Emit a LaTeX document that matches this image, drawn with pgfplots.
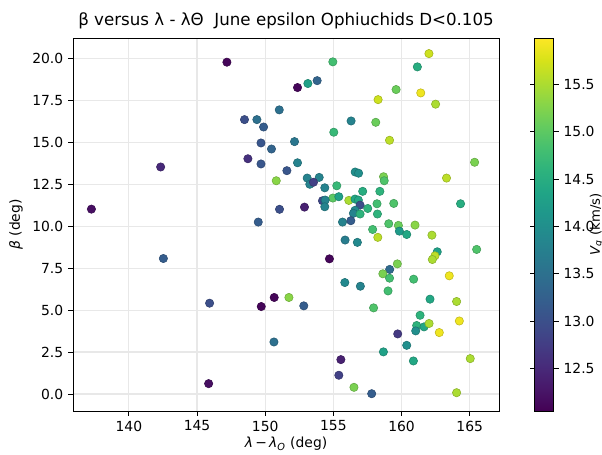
\documentclass[border=0pt]{standalone}
\usepackage{pgfplots}
\pgfplotsset{compat=1.18}
\usepackage{fontspec}
\setmainfont{DejaVu Sans}
\begin{document}
\begin{tikzpicture}
\path[use as bounding box] (-52.56pt,-30.96pt) rectangle ++(433.44pt,326.88pt);
\begin{axis}[
  name=main,
  at={(0,0)}, anchor=south west,
  scale only axis,
  width=306.72pt, height=268.56pt,
  xmin=135.9, xmax=167.15, ymin=-1.01, ymax=21.2,
  xtick={140,145,...,165},
  ytick={0,2.5,...,20},
  yticklabel style={/pgf/number format/.cd, fixed, fixed zerofill, precision=1},
  /pgf/number format/assume math mode=true,
  ticklabel style={font=\fontsize{10}{12}\selectfont},
  tick pos=left, tick align=outside,
  major tick length=3.5pt,
  every tick/.style={black, line width=0.6pt},
  axis line style={black, line width=0.6pt},
  grid=major,
  major grid style={gray!18, line width=0.8pt},
  title={β versus λ - λΘ \ June epsilon Ophiuchids D<0.105},
  title style={font=\fontsize{12}{14}\selectfont, yshift=-3pt},
  xlabel={\textit{λ}\,−\,\textit{λ}\textsubscript{\textit{O}} (deg)},
  ylabel={\textit{β} (deg)},
  label style={font=\fontsize{10}{12}\selectfont},
  xlabel style={yshift=2.5pt},
  colormap/viridis,
  point meta min=12.05, point meta max=15.99,
  colorbar,
  colorbar style={
    at={(parent axis.north east)}, anchor=north west, xshift=17.28pt,
    width=13.68pt,
    ytick={12.5,13,...,15.5},
    yticklabel style={/pgf/number format/.cd, fixed, fixed zerofill, precision=1},
    /pgf/number format/assume math mode=true,
    yticklabel pos=right,
    ylabel={\textit{V}\textsubscript{\textit{g}} (km/s)},
    ylabel style={font=\fontsize{9.5}{11}\selectfont, at={(axis description cs:3.25,0.5)}, anchor=center},
    tick align=outside, major tick length=3.5pt,
    ticklabel style={font=\fontsize{10}{12}\selectfont},
    axis line style={black, line width=0.6pt},
  },
]
\addplot[scatter, only marks, scatter src=explicit, mark=*, mark size=3pt]
table[meta=c] {
x y c
147.19 19.76 12.1
152.37 18.25 12.1
151.03 16.92 13.5
148.48 16.34 13.0
149.39 16.34 13.5
149.88 15.90 13.2
149.69 14.95 13.1
152.15 15.03 13.6
150.46 14.59 13.3
148.73 14.01 12.6
149.69 13.70 13.1
152.37 13.77 13.8
151.59 13.30 13.1
150.81 12.70 15.3
142.33 13.52 12.5
137.25 11.01 12.2
151.05 11.00 13.0
149.49 10.24 13.2
142.53 8.07 13.2
145.92 5.41 13.0
149.71 5.21 12.1
150.66 5.75 12.1
151.74 5.75 15.3
150.64 3.10 13.5
145.85 0.62 12.2
162.01 20.27 15.7
154.96 19.78 14.8
161.16 19.48 14.5
153.13 18.49 14.3
153.81 18.66 13.3
159.60 18.13 15.1
161.41 17.93 15.9
158.28 17.53 15.7
162.50 17.26 15.5
156.30 16.26 13.8
158.11 16.18 15.1
155.03 15.59 14.7
159.12 15.11 15.6
165.36 13.80 15.2
156.60 13.22 14.0
156.85 13.15 14.0
158.68 12.94 15.2
158.73 12.70 14.9
163.30 12.86 15.6
153.08 12.86 13.8
153.96 12.90 13.8
153.27 12.49 13.8
153.54 12.61 12.8
154.37 12.28 13.8
155.25 12.40 14.7
157.15 12.07 14.5
158.41 12.07 14.6
154.96 11.67 15.0
155.40 11.75 14.3
154.20 11.51 12.9
154.40 11.55 13.8
154.37 11.15 13.8
152.88 11.13 12.4
156.13 11.53 15.5
156.59 11.61 14.4
156.83 11.55 14.4
156.96 11.25 13.0
156.59 10.94 13.9
156.47 10.76 13.8
157.52 11.05 14.6
158.20 11.33 14.8
159.43 11.35 14.9
164.33 11.33 14.5
156.96 10.72 14.6
158.23 10.72 14.6
155.67 10.24 13.8
156.28 10.32 13.2
159.06 10.14 14.9
159.77 10.04 15.1
160.99 10.06 15.3
157.88 9.80 14.8
159.84 9.70 14.2
160.38 9.50 14.4
158.26 9.33 15.6
162.23 9.46 15.5
165.51 8.61 14.9
155.86 9.17 13.7
156.76 9.03 13.9
162.62 8.47 14.3
162.45 8.23 15.6
162.26 8.01 15.5
154.71 8.05 12.1
159.69 7.75 15.2
159.13 7.42 13.4
158.63 7.16 15.2
159.12 6.90 14.8
160.89 6.84 14.8
163.50 7.04 15.9
155.84 6.64 13.9
156.98 6.42 13.8
159.01 6.14 14.8
152.83 5.25 13.2
162.09 5.65 14.4
164.04 5.51 15.5
157.95 5.13 14.9
161.36 4.69 14.6
164.24 4.35 15.9
161.11 4.08 14.6
161.65 4.00 14.4
162.02 4.20 15.5
161.04 3.76 14.0
162.77 3.66 15.9
159.72 3.58 12.7
160.38 2.90 14.0
158.67 2.51 14.3
165.04 2.11 15.5
160.87 1.97 14.4
155.55 2.05 12.4
155.40 1.12 12.8
156.51 0.40 15.2
157.81 0.02 13.2
164.04 0.08 15.5
};
\end{axis}
\end{tikzpicture}
\end{document}
